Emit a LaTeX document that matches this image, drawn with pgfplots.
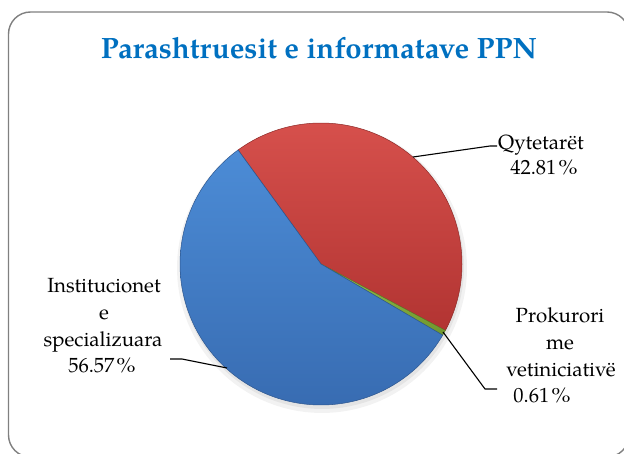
\documentclass[border=0pt]{standalone}
\usepackage{pgfplots}
\pgfplotsset{compat=1.18}
\usepackage{fontspec}
\setmainfont{TeX Gyre Pagella}
\definecolor{titleblue}{RGB}{0,112,192}
\definecolor{redtop}{RGB}{214,80,76}
\definecolor{redbot}{RGB}{178,52,50}
\definecolor{bluetop}{RGB}{76,140,214}
\definecolor{bluebot}{RGB}{56,108,178}
\definecolor{greentop}{RGB}{150,190,80}
\definecolor{greenbot}{RGB}{110,150,45}
\definecolor{framegray}{RGB}{128,128,128}
% data (percent)
\def\vInst{56.57}
\def\vQyt{42.81}
\def\vProk{0.61}
\pgfmathsetmacro{\aStart}{126}
\pgfmathsetmacro{\aQ}{\aStart-\vQyt*3.6}
\pgfmathsetmacro{\aP}{\aQ-\vProk*3.6}
\pgfmathsetmacro{\aI}{\aP-\vInst*3.6}
\def\cx{321}
\def\cy{189}
\def\rr{141}
\newcommand{\pc}{\kern2pt\scalebox{1.12}[1]{\%}}
\begin{document}
\begin{tikzpicture}
\path[use as bounding box] (0,0) rectangle (624pt,453pt);
\begin{scope}
\clip (0,0) rectangle (624pt,453pt);
\draw[framegray, line width=1.4pt, rounded corners=22pt] (8.5pt,441pt) rectangle (629pt,-4pt);
\end{scope}
\begin{axis}[at={(0pt,0pt)}, anchor=origin, scale only axis, width=624pt, height=453pt,
  xmin=0, xmax=624, ymin=0, ymax=453, hide axis, clip=false]
% soft shadow
\addplot[fill=black, fill opacity=0.05, draw=none, domain=0:360, samples=120, variable=\t]
  ({\cx+1+(\rr+4)*cos(t)},{\cy-4+(\rr+4)*sin(t)});
\addplot[fill=black, fill opacity=0.06, draw=none, domain=0:360, samples=120, variable=\t]
  ({\cx+1+(\rr+1)*cos(t)},{\cy-3+(\rr+1)*sin(t)});
% slices
\addplot[top color=redtop, bottom color=redbot, draw=redbot!80!black, line width=0.5pt,
  domain=\aQ:\aStart, samples=100, variable=\t]
  ({\cx+\rr*cos(t)},{\cy+\rr*sin(t)}) -- (axis cs:\cx,\cy) -- cycle;
\addplot[top color=greentop, bottom color=greenbot, draw=greenbot!80!black, line width=0.4pt,
  domain=\aP:\aQ, samples=10, variable=\t]
  ({\cx+\rr*cos(t)},{\cy+\rr*sin(t)}) -- (axis cs:\cx,\cy) -- cycle;
\addplot[top color=bluetop, bottom color=bluebot, draw=bluebot!80!black, line width=0.5pt,
  domain=\aI:\aP, samples=120, variable=\t]
  ({\cx+\rr*cos(t)},{\cy+\rr*sin(t)}) -- (axis cs:\cx,\cy) -- cycle;
% leader lines
\addplot[black, line width=1.1pt] coordinates {(413,296) (490,307) (497,307)};
\addplot[black, line width=1.1pt] coordinates {(227,85) (182,94) (170,94)};
\addplot[black, line width=1.1pt] coordinates {(443,121) (485,64) (497,64)};
% title
\node[anchor=base, text=titleblue, font=\fontsize{29.4}{33}\selectfont\bfseries] at (axis cs:319,394) {Parashtruesit e informatave PPN};
% labels
\tikzset{lab/.style={anchor=base, font=\fontsize{20.5}{24}\selectfont, inner sep=0pt}}
\node[lab] at (axis cs:541,303) {Qytetarët};
\node[lab] at (axis cs:544,278) {42.81\pc};
\node[lab] at (axis cs:104,160) {Institucionet};
\node[lab] at (axis cs:104,133) {e};
\node[lab] at (axis cs:103,106) {specializuara};
\node[lab] at (axis cs:102,81) {56.57\pc};
\node[lab] at (axis cs:560,130) {Prokurori};
\node[lab] at (axis cs:560,103) {me};
\node[lab] at (axis cs:561,76) {vetiniciativë};
\node[lab] at (axis cs:542,50) {0.61\pc};
\end{axis}
\end{tikzpicture}
\end{document}
